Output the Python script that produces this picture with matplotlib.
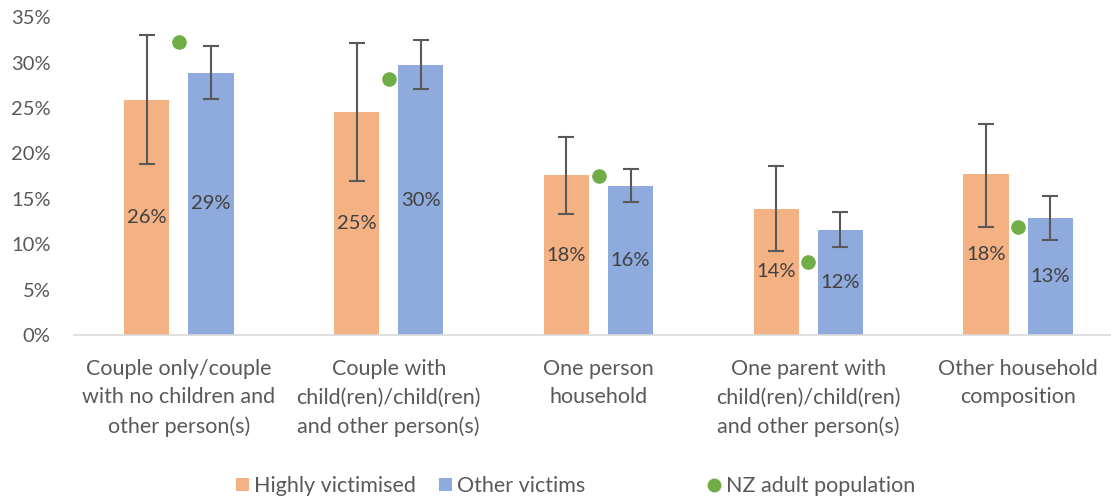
import matplotlib
matplotlib.use("Agg")
import matplotlib.pyplot as plt
import numpy as np
from matplotlib.ticker import MultipleLocator, FuncFormatter
from matplotlib.lines import Line2D
from matplotlib.patches import Patch

# Data (percent)
categories = [
    "Couple only/couple\nwith no children and\nother person(s)",
    "Couple with\nchild(ren)/child(ren)\nand other person(s)",
    "One person\nhousehold",
    "One parent with\nchild(ren)/child(ren)\nand other person(s)",
    "Other household\ncomposition",
]
highly_victimised = [25.9, 24.6, 17.6, 13.9, 17.7]
highly_low = [18.8, 17.0, 13.3, 9.3, 11.9]
highly_high = [33.1, 32.2, 21.8, 18.6, 23.3]
other_victims = [28.9, 29.7, 16.4, 11.6, 12.9]
other_low = [26.0, 27.1, 14.6, 9.7, 10.5]
other_high = [31.8, 32.5, 18.3, 13.5, 15.3]
nz_adult = [32.3, 28.2, 17.5, 8.0, 11.9]
series_names = ['Highly victimised', 'Other victims', 'NZ adult population']

orange = '#F4B183'
blue = '#8FAADC'
green = '#70AD47'
err_col = '#595959'
txt_col = '#595959'

plt.rcParams['font.family'] = ['Lato', 'DejaVu Sans']

fig = plt.figure(figsize=(11.11, 4.97), dpi=100)
ax = fig.add_axes([74/1111, 1 - 335/497, 1049/1111, 317.7/497])

x = np.arange(len(categories))
w = 0.216
off = 0.153

hv = np.array(highly_victimised)
ov = np.array(other_victims)
hv_err = [hv - np.array(highly_low), np.array(highly_high) - hv]
ov_err = [ov - np.array(other_low), np.array(other_high) - ov]

ax.bar(x - off, hv, w, color=orange, zorder=2)
ax.bar(x + off, ov, w, color=blue, zorder=2)
ax.errorbar(x - off, hv, yerr=hv_err, fmt='none', ecolor=err_col,
            elinewidth=1.5, capsize=5.5, capthick=1.5, zorder=3)
ax.errorbar(x + off, ov, yerr=ov_err, fmt='none', ecolor=err_col,
            elinewidth=1.5, capsize=5.5, capthick=1.5, zorder=3)
ax.plot(x, nz_adult, 'o', color=green, markersize=9.5, zorder=4)

# Data labels in the middle of the bars
for xi, v in zip(x - off, hv):
    ax.text(xi, v / 2, f"{round(v):.0f}%", ha='center', va='center',
            fontsize=14.5, color='#404040', zorder=5)
for xi, v in zip(x + off, ov):
    ax.text(xi, v / 2, f"{round(v):.0f}%", ha='center', va='center',
            fontsize=14.5, color='#404040', zorder=5)

# Axes formatting
ax.set_xlim(-0.5, len(categories) - 0.5)
ax.set_ylim(0, 35)
ax.yaxis.set_major_locator(MultipleLocator(5))
ax.yaxis.set_major_formatter(FuncFormatter(lambda v, p: f"{v:.0f}%"))
ax.set_xticks(x)
ax.set_xticklabels(categories, fontsize=15.5, color=txt_col, linespacing=1.55)
ax.tick_params(axis='y', labelsize=14.5, labelcolor=txt_col, length=0, pad=17)
ax.tick_params(axis='x', length=0, pad=17)
for s in ['top', 'right', 'left']:
    ax.spines[s].set_visible(False)
ax.spines['bottom'].set_color('#D9D9D9')
ax.spines['bottom'].set_linewidth(1.2)

# Legend: three entries placed like the Excel legend
handles = [
    Patch(facecolor=orange, label=series_names[0]),
    Patch(facecolor=blue, label=series_names[1]),
    Line2D([], [], marker='o', linestyle='none', color=green, markersize=9,
           label=series_names[2]),
]
leg_x = [236, 439, 708]
for h, lx in zip(handles, leg_x):
    fig.legend(handles=[h], loc='center left',
               bbox_to_anchor=(lx/1111, 1 - 486/497),
               frameon=False, fontsize=15.5, labelcolor=txt_col,
               borderpad=0, borderaxespad=0,
               handlelength=0.6, handleheight=0.6, handletextpad=0.25)

plt.savefig('out.png', dpi=100)
